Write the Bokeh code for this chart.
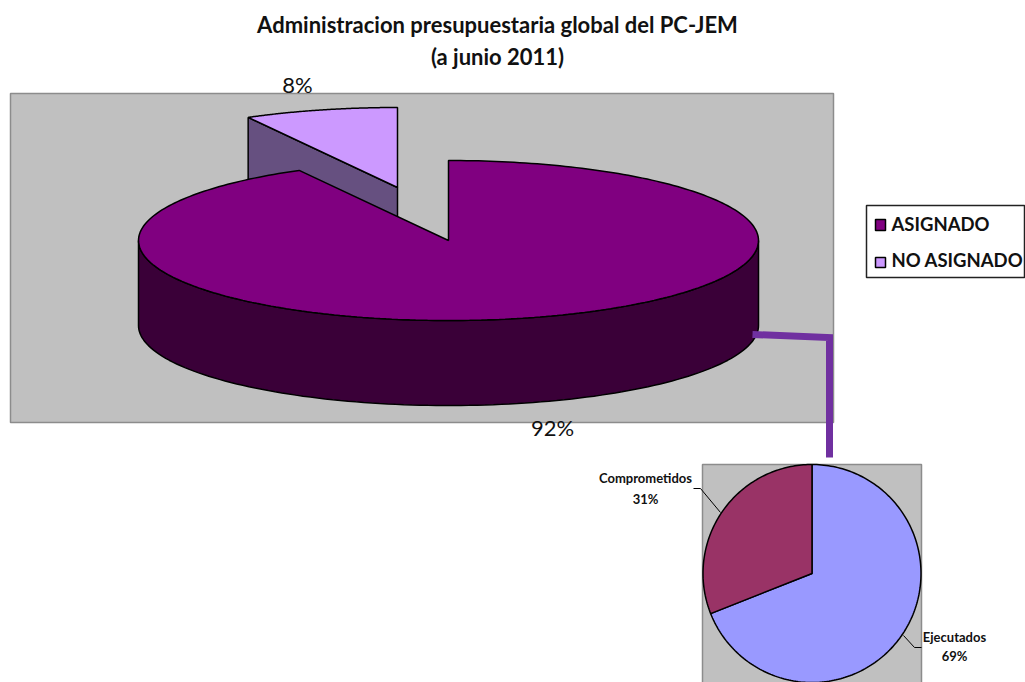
import numpy as np
from bokeh.plotting import figure
from bokeh.models import Range1d
from bokeh.core.properties import value
from bokeh.embed import file_html
from bokeh.resources import INLINE

# --- data ---
main_labels = ["ASIGNADO", "NO ASIGNADO"]
main_values = [92, 8]
main_texts = ["92%", "8%"]
detail_labels = ["Ejecutados", "Comprometidos"]
detail_values = [69, 31]
detail_texts = ["69%", "31%"]
title_lines = ["Administracion presupuestaria global del PC-JEM", "(a junio 2011)"]

# --- layout (image pixel coordinates) ---
CX, CY, A, B, DEPTH = 448, 240, 310, 80, 85
EXPLODE = (-51, -53)
DCX, DCY, DR = 811.5, 573, 109
FONT = value("Lato")
INK = "#000000"

p = figure(width=1025, height=682, output_backend="svg", toolbar_location=None,
           x_range=Range1d(0, 1025), y_range=Range1d(682, 0),
           min_border=0, outline_line_color=None, background_fill_color="#ffffff")
p.axis.visible = False
p.grid.visible = False


def arc(cx, cy, a, b, t0, t1, n=120):
    t = np.radians(np.linspace(t0, t1, n))
    return cx + a * np.sin(t), cy - b * np.cos(t)


def txt(x, y, s, size, bold=False, align="center", color="#111111"):
    p.text([x], [y], text=[s], text_font=FONT, text_font_size=value(f"{size}px"),
           text_align=align, text_baseline="middle", text_color=color,
           text_font_style="bold" if bold else "normal")


# chart backgrounds
p.patch([10, 833, 833, 10], [93, 93, 422, 422], fill_color="#C0C0C0", line_color="#8c8c8c", line_width=1.5)
p.patch([702, 921, 921, 702], [464, 464, 690, 690], fill_color="#C0C0C0", line_color="#8c8c8c", line_width=1.5)

# angles from the values, clockwise from 12 o'clock
total = sum(main_values)
split = 360 * main_values[0] / total

# exploded slice (NO ASIGNADO)
ox, oy = CX + EXPLODE[0], CY + EXPLODE[1]
sx, sy = arc(ox, oy, A, B, split, 360)
p.patch([ox, sx[0], sx[0], ox], [oy, sy[0], sy[0] + DEPTH, oy + DEPTH],
        fill_color="#665080", line_color=INK, line_width=1.5)
p.patch([ox, *sx], [oy, *sy], fill_color="#CC99FF", line_color=INK, line_width=1.5)

# main slice (ASIGNADO): side wall then top
fx, fy = arc(CX, CY, A, B, 90, 270)
p.patch([*fx, *fx[::-1]], [*fy, *(fy[::-1] + DEPTH)], fill_color="#3A0038", line_color=INK, line_width=1.5)
mx, my = arc(CX, CY, A, B, 0, split, 300)
p.patch([CX, *mx], [CY, *my], fill_color="#800080", line_color=INK, line_width=1.5)

# connector between the two pies
p.line([752, 829, 829], [334, 337, 457], line_color="#7030A0", line_width=7, line_join="miter")

# detail pie
dsplit = 360 * detail_values[0] / sum(detail_values)
ax, ay = arc(DCX, DCY, DR, DR, 0, dsplit, 200)
p.patch([DCX, *ax], [DCY, *ay], fill_color="#9999FF", line_color=INK, line_width=1.5)
bx, by = arc(DCX, DCY, DR, DR, dsplit, 360, 100)
p.patch([DCX, *bx], [DCY, *by], fill_color="#993366", line_color=INK, line_width=1.5)

# leader lines
p.line([693, 700, 720], [488, 488, 512], line_color=INK, line_width=1)
p.line([903, 914, 921], [635, 647, 647], line_color=INK, line_width=1)

# legend
p.patch([866, 1024, 1024, 866], [205, 205, 277, 277], fill_color="#ffffff", line_color="#222222", line_width=1.5)
p.patch([875, 885, 885, 875], [219, 219, 230, 230], fill_color="#800080", line_color=INK, line_width=1.5)
p.patch([875, 885, 885, 875], [257, 257, 267, 267], fill_color="#CC99FF", line_color=INK, line_width=1.5)
txt(891, 223, main_labels[0], 18.5, True, "left")
txt(891, 259, main_labels[1], 18.5, True, "left")

# texts
txt(497, 24, title_lines[0], 22, True)
txt(497, 56, title_lines[1], 22, True)
txt(297, 84, main_texts[1], 22)
txt(552, 427, main_texts[0], 22)
txt(645, 477, detail_labels[1], 13, True)
txt(645, 498, detail_texts[1], 13, True)
txt(954, 636, detail_labels[0], 13, True)
txt(954, 655, detail_texts[0], 13, True)

open("out.html", "w").write(file_html(p, INLINE))
